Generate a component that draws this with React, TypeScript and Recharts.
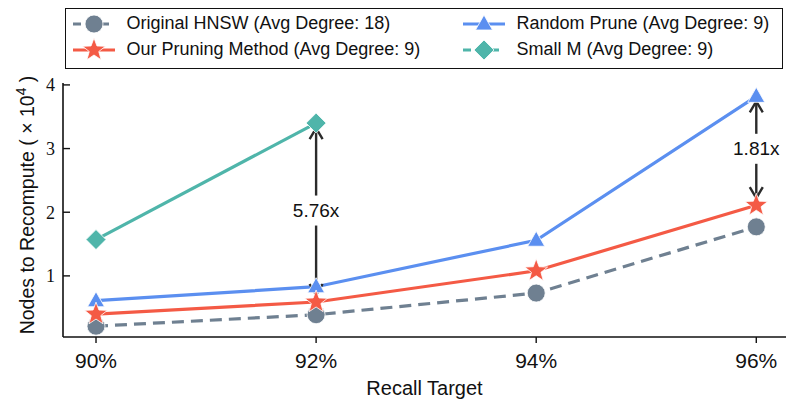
import React from 'react';
import { LineChart, Line, XAxis, YAxis, ReferenceLine } from 'recharts';

const recallTargets = [90, 92, 94, 96];
const originalHnsw = [0.21, 0.39, 0.73, 1.77];
const ourPruning = [0.4, 0.59, 1.08, 2.11];
const randomPrune = [0.61, 0.83, 1.56, 3.82];
const smallM = [1.57, 3.4];
const yTicks = [1, 2, 3, 4];

// ratio arrows: x, top value, bottom value, text
const annotations = [
  { x: 92, top: 3.4, bottom: 0.59, text: '5.76x' },
  { x: 96, top: 3.82, bottom: 2.11, text: '1.81x' },
];

const GRAY = '#6f8091';
const RED = '#f45a45';
const BLUE = '#5b8ff0';
const TEAL = '#4fb5aa';
const SANS = '"Liberation Sans", Arial, sans-serif';
const SERIF = '"Liberation Serif", "DejaVu Serif", serif';

const data = recallTargets.map((r, i) => ({
  recall: r,
  original: originalHnsw[i],
  ours: ourPruning[i],
  random: randomPrune[i],
  smallM: smallM[i],
}));

const starPath = (cx: number, cy: number, R: number, r: number) => {
  let d = '';
  for (let i = 0; i < 10; i++) {
    const a = -Math.PI / 2 + (i * Math.PI) / 5;
    const rad = i % 2 === 0 ? R : r;
    d += `${i === 0 ? 'M' : 'L'}${cx + rad * Math.cos(a)},${cy + rad * Math.sin(a)}`;
  }
  return d + 'Z';
};

const Marker = ({ kind, cx, cy, color }: any) => {
  const edge = { stroke: 'rgba(255,255,255,0.8)', strokeWidth: 1 };
  if (kind === 'circle') return <circle cx={cx} cy={cy} r={9} fill={color} {...edge} />;
  if (kind === 'star') return <path d={starPath(cx, cy, 12, 5)} fill={color} {...edge} />;
  if (kind === 'triangle')
    return <path d={`M${cx},${cy - 9}L${cx + 8.5},${cy + 6}L${cx - 8.5},${cy + 6}Z`} fill={color} {...edge} />;
  return <path d={`M${cx},${cy - 10}L${cx + 10},${cy}L${cx},${cy + 10}L${cx - 10},${cy}Z`} fill={color} {...edge} />;
};

const makeDot = (kind: string, color: string) => (props: any) => {
  const { cx, cy, index, value } = props;
  if (value == null || cy == null) return <g key={`${kind}-${index}`} />;
  return (
    <g key={`${kind}-${index}`}>
      <Marker kind={kind} cx={cx} cy={cy} color={color} />
    </g>
  );
};

const arrowShape = (text: string) => (props: any) => {
  const { x1, y1, x2, y2 } = props;
  const top = Math.min(y1, y2) + 5;
  const bot = Math.max(y1, y2) - 7;
  const mid = (y1 + y2) / 2 - 2;
  const gap = 15;
  const h = 11;
  const w = 6.5;
  const st = { stroke: '#2b2b2b', strokeWidth: 2.4, fill: 'none' };
  return (
    <g>
      <line x1={x1} y1={top} x2={x1} y2={mid - gap} {...st} />
      <line x1={x1} y1={mid + gap} x2={x1} y2={bot} {...st} />
      <path d={`M${x1 - w},${top + h}L${x1},${top}L${x1 + w},${top + h}`} {...st} />
      <path d={`M${x1 - w},${bot - h}L${x1},${bot}L${x1 + w},${bot - h}`} {...st} />
      <text x={x1} y={mid} textAnchor="middle" dominantBaseline="central" fontSize={19} fontFamily={SANS} fill="#111">
        {text}
      </text>
    </g>
  );
};

const YLabel = (props: any) => {
  const vb = props.viewBox || { y: 83, height: 254 };
  const cx = 34;
  const cy = vb.y + vb.height / 2 - 5;
  return (
    <text
      x={cx}
      y={cy}
      transform={`rotate(-90, ${cx}, ${cy})`}
      textAnchor="middle"
      fontSize={19.5}
      fontFamily={SANS}
      fill="#111"
      style={{ whiteSpace: 'pre' }}
    >
      {'Nodes to Recompute ( × 10'}
      <tspan fontSize={14} dy={-8}>4</tspan>
      <tspan dy={8}>{' )'}</tspan>
    </text>
  );
};

const legendItems = [
  { name: 'Original HNSW (Avg Degree: 18)', kind: 'circle', color: GRAY, dashed: true, left: 8, top: 16 },
  { name: 'Our Pruning Method (Avg Degree: 9)', kind: 'star', color: RED, dashed: false, left: 8, top: 42 },
  { name: 'Random Prune (Avg Degree: 9)', kind: 'triangle', color: BLUE, dashed: false, left: 398, top: 16 },
  { name: 'Small M (Avg Degree: 9)', kind: 'diamond', color: TEAL, dashed: true, left: 398, top: 42 },
];

const ChartLegend = () => (
  <div
    style={{
      position: 'absolute',
      left: 65,
      top: 8,
      width: 718,
      height: 61,
      boxSizing: 'border-box',
      border: '1.5px solid #111',
      background: '#fff',
      fontFamily: SANS,
      fontSize: 18,
      color: '#111',
    }}
  >
    {legendItems.map((it) => (
      <div key={it.name} style={{ position: 'absolute', left: it.left - 1.5, top: it.top - 13.5, height: 24, display: 'flex', alignItems: 'center', whiteSpace: 'nowrap' }}>
        <svg width={42} height={24} style={{ display: 'block' }}>
          <line
            x1={0}
            y1={12}
            x2={42}
            y2={12}
            stroke={it.color}
            strokeWidth={3}
            strokeDasharray={it.dashed ? '8 6' : undefined}
          />
          <Marker kind={it.kind} cx={21} cy={12} color={it.color} />
        </svg>
        <span style={{ marginLeft: 12 }}>{it.name}</span>
      </div>
    ))}
  </div>
);

export default function App() {
  return (
    <div style={{ position: 'absolute', left: 0, top: 0, width: 786, height: 401, background: '#fff' }}>
      <LineChart width={786} height={401} data={data} margin={{ top: 83, right: 0, bottom: 0, left: 0 }}>
        <XAxis
          dataKey="recall"
          type="number"
          domain={[89.7, 96.27]}
          ticks={recallTargets}
          allowDataOverflow
          height={64}
          tickFormatter={(v) => `${v}%`}
          tick={{ fontSize: 21, fontFamily: SANS, fill: '#111' }}
          tickSize={6}
          tickMargin={10}
          axisLine={{ stroke: '#111', strokeWidth: 1.6 }}
          tickLine={{ stroke: '#111', strokeWidth: 1.4 }}
          label={{ value: 'Recall Target', position: 'insideBottom', offset: 6, fontSize: 20, fontFamily: SANS, fill: '#111' }}
        />
        <YAxis
          type="number"
          domain={[0.04, 4.03]}
          ticks={yTicks}
          allowDataOverflow
          width={63}
          tick={{ fontSize: 18, fontFamily: SERIF, fill: '#111' }}
          tickSize={-7}
          tickMargin={15}
          axisLine={{ stroke: '#111', strokeWidth: 1.6 }}
          tickLine={{ stroke: '#111', strokeWidth: 1.4 }}
          label={{ content: YLabel }}
        />
        <Line
          dataKey="original"
          stroke={GRAY}
          strokeWidth={3.2}
          strokeDasharray="12 7"
          dot={makeDot('circle', GRAY)}
          activeDot={false}
          isAnimationActive={false}
        />
        <Line
          dataKey="random"
          stroke={BLUE}
          strokeWidth={3.2}
          dot={makeDot('triangle', BLUE)}
          activeDot={false}
          isAnimationActive={false}
        />
        <Line
          dataKey="smallM"
          stroke={TEAL}
          strokeWidth={3.2}
          dot={makeDot('diamond', TEAL)}
          activeDot={false}
          isAnimationActive={false}
        />
        <Line
          dataKey="ours"
          stroke={RED}
          strokeWidth={3.2}
          dot={makeDot('star', RED)}
          activeDot={false}
          isAnimationActive={false}
        />
        {annotations.map((a) => (
          <ReferenceLine
            key={a.text}
            segment={[
              { x: a.x, y: a.top },
              { x: a.x, y: a.bottom },
            ]}
            shape={arrowShape(a.text)}
          />
        ))}
      </LineChart>
      <ChartLegend />
    </div>
  );
}
